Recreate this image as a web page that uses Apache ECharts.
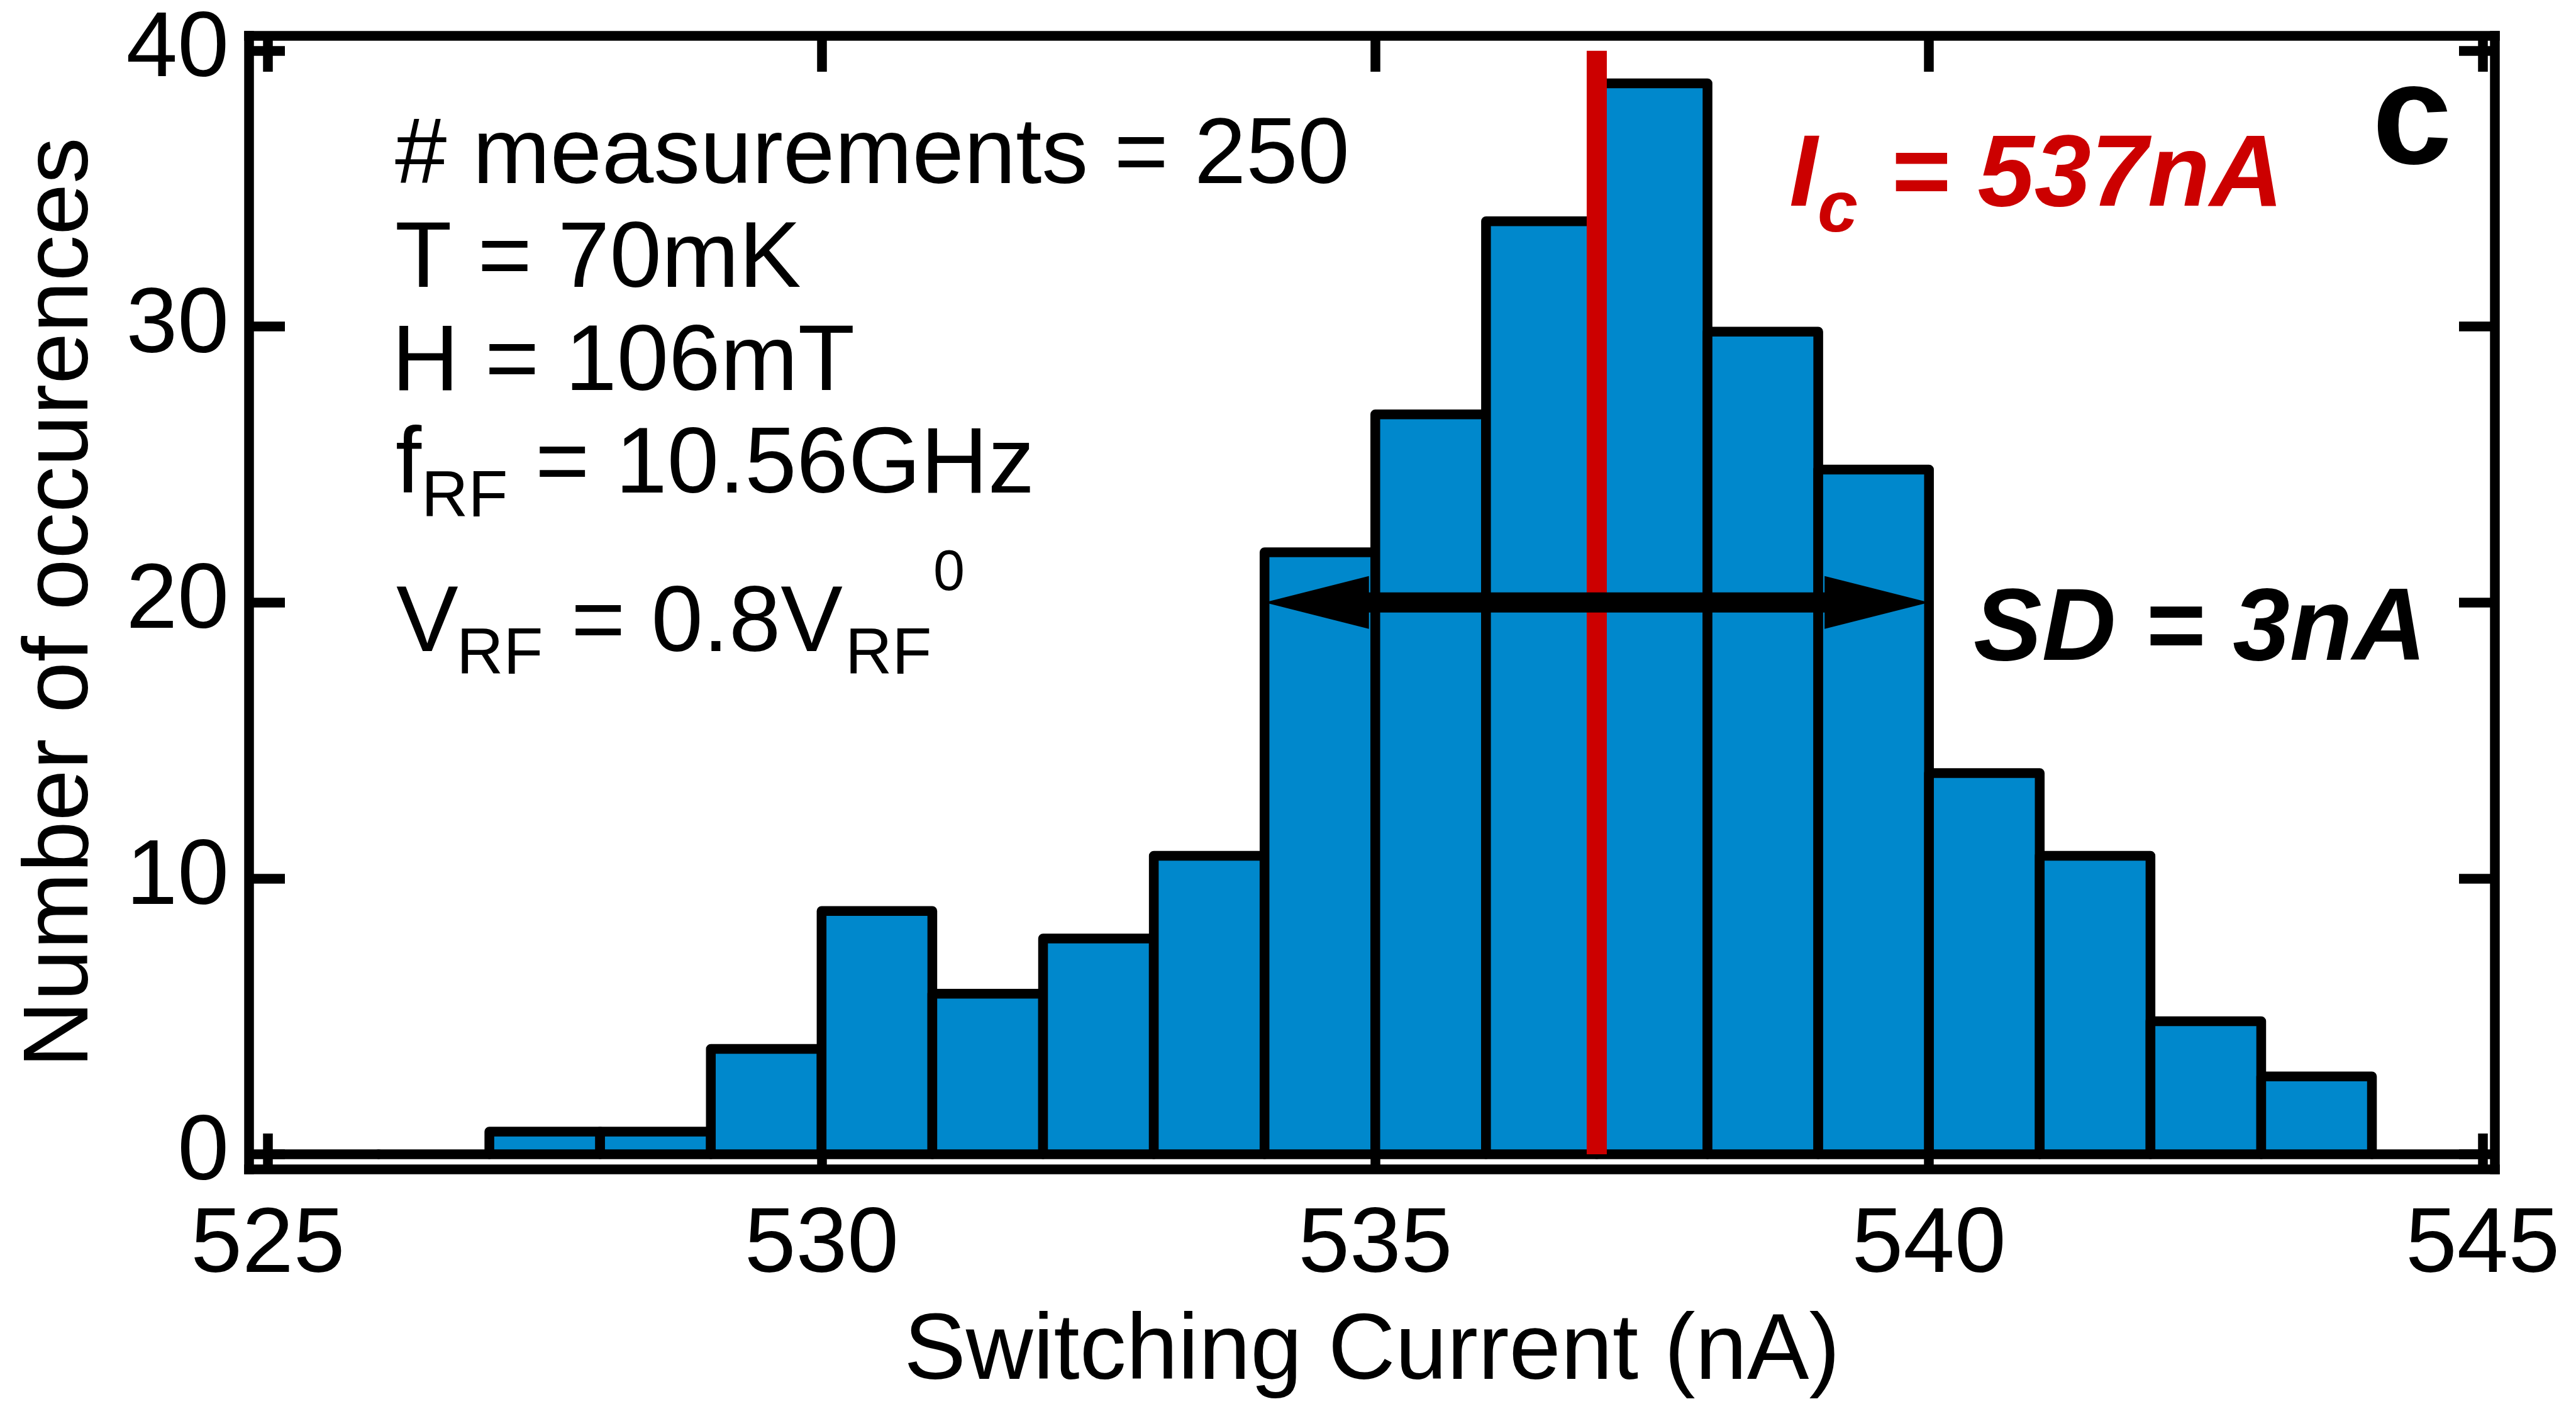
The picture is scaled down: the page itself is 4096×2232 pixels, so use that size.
<!DOCTYPE html>
<html>
<head>
<meta charset="utf-8">
<style>
html,body{margin:0;padding:0;background:#ffffff;}
#c{width:4096px;height:2232px;}
</style>
<script src="https://cdn.jsdelivr.net/npm/echarts@6/dist/echarts.min.js"></script>
</head>
<body>
<div id="c"></div>
<script>
// ---------------- data ----------------
const binStarts = [525,526,527,528,529,530,531,532,533,534,535,536,537,538,539,540,541,542,543,544];
const counts    = [0,  0,  1,  1,  4,  9,  6,  8,  11, 22, 27, 34, 39, 30, 25, 14, 11, 5,  3,  0];
const binWidth = 1;
const xTickValues = [525,530,535,540,545];
const yTickValues = [0,10,20,30,40];
const xRange = [524.83, 545.11];
const yRange = [-0.55, 40.54];
const icLine = [[537,0],[537,40]];          // critical current marker
const sdArrow = [[534, 540, 20]];           // standard deviation arrow (from, to, at count)
const xName = 'Switching Current (nA)';
const yName = 'Number of occurences';

// ---------------- style ----------------
const FONT = "Arial, 'Liberation Sans', Helvetica, sans-serif";
const LW = 15.5;
const TICKLEN = 57;
const BLUE = '#0088cc';
const RED = '#cc0000';
const K = 0.80; // baseline offset factor for top-aligned text
const TOP_INSET = 8; // outline sits just inside the bar top, as in the reference

const chart = echarts.init(document.getElementById('c'), null, {renderer:'canvas', width:4096, height:2232});

function txt(text, x, baseline, size, extra) {
  return {
    type: 'text', x: x, y: baseline - K * size, z: 100,
    style: Object.assign({
      text: text, fontSize: size, fontFamily: FONT, fill: '#000',
      lineHeight: size, align: 'left', verticalAlign: 'top'
    }, extra || {})
  };
}
const BI = {fontWeight: 'bold', fontStyle: 'italic'};

const axisCommon = {
  type: 'value',
  axisLine: {show: true, onZero: false, lineStyle: {color: '#000', width: LW, cap: 'square'}},
  splitLine: {show: false},
  minorTick: {show: false}
};

const option = {
  backgroundColor: '#ffffff',
  animation: false,
  grid: {left: 396, right: 129, top: 57, bottom: 373, containLabel: false, outerBoundsMode: 'none'},
  xAxis: [
    Object.assign({}, axisCommon, {
      position: 'bottom', min: xRange[0], max: xRange[1],
      axisTick: {show: true, inside: true, length: TICKLEN, customValues: xTickValues, lineStyle: {color: '#000', width: LW}},
      axisLabel: {show: true, customValues: xTickValues, fontSize: 147, fontFamily: FONT, color: '#000', margin: 49},
      name: xName, nameLocation: 'middle', nameGap: 218,
      nameTextStyle: {fontSize: 148, fontFamily: FONT, color: '#000'}
    }),
    Object.assign({}, axisCommon, {
      position: 'top', min: xRange[0], max: xRange[1],
      axisTick: {show: true, inside: true, length: TICKLEN, customValues: xTickValues, lineStyle: {color: '#000', width: LW}},
      axisLabel: {show: false}
    })
  ],
  yAxis: [
    Object.assign({}, axisCommon, {
      position: 'left', min: yRange[0], max: yRange[1],
      axisTick: {show: true, inside: true, length: TICKLEN, customValues: yTickValues, lineStyle: {color: '#000', width: LW}},
      axisLabel: {show: true, customValues: yTickValues, fontSize: 147, fontFamily: FONT, color: '#000', margin: 32},
      name: yName, nameLocation: 'middle', nameGap: 224, nameRotate: 90,
      nameTextStyle: {fontSize: 147, fontFamily: FONT, color: '#000'}
    }),
    Object.assign({}, axisCommon, {
      position: 'right', min: yRange[0], max: yRange[1],
      axisTick: {show: true, inside: true, length: TICKLEN, customValues: yTickValues, lineStyle: {color: '#000', width: LW}},
      axisLabel: {show: false}
    })
  ],
  series: [
    {
      type: 'custom', name: 'histogram', xAxisIndex: 0, yAxisIndex: 0, z: 2,
      data: binStarts.map((s, i) => [s, s + binWidth, counts[i]]),
      encode: {x: [0, 1], y: 2},
      renderItem: function (params, api) {
        const p0 = api.coord([api.value(0), 0]);
        const p1 = api.coord([api.value(1), api.value(2)]);
        const h = p0[1] - p1[1];
        const inset = h > TOP_INSET ? TOP_INSET : 0;
        return {
          type: 'rect',
          shape: {x: p0[0], y: p1[1] + inset, width: p1[0] - p0[0], height: h - inset},
          style: {fill: BLUE, stroke: '#000', lineWidth: LW, lineJoin: 'round'}
        };
      }
    },
    {
      type: 'line', name: 'Ic', xAxisIndex: 0, yAxisIndex: 0, z: 3,
      data: icLine, symbol: 'none', silent: true,
      lineStyle: {color: RED, width: 32, cap: 'butt'}
    },
    {
      type: 'custom', name: 'SD', xAxisIndex: 0, yAxisIndex: 0, z: 4,
      data: sdArrow, encode: {x: [0, 1], y: 2},
      renderItem: function (params, api) {
        const a = api.coord([api.value(0), api.value(2)]);
        const b = api.coord([api.value(1), api.value(2)]);
        const HL = 166, HH = 42, SH = 16;
        const y = a[1];
        return {
          type: 'polygon',
          shape: {points: [
            [a[0], y], [a[0] + HL, y - HH], [a[0] + HL, y - SH],
            [b[0] - HL, y - SH], [b[0] - HL, y - HH], [b[0], y],
            [b[0] - HL, y + HH], [b[0] - HL, y + SH],
            [a[0] + HL, y + SH], [a[0] + HL, y + HH]
          ]},
          style: {fill: '#000'}
        };
      }
    }
  ],
  graphic: {elements: [
    txt('# measurements = 250', 628, 295, 148),
    txt('T = 70mK', 628, 460, 148),
    txt('H = 106mT', 623, 624, 148),
    txt('f', 629, 787, 148),
    txt('RF', 670, 823, 103),
    txt('= 10.56GHz', 851, 787, 148),
    txt('V', 630, 1039, 148),
    txt('RF', 726, 1073, 103),
    txt('= 0.8V', 908, 1039, 148),
    txt('RF', 1344, 1073, 103),
    txt('0', 1484, 940, 90),
    txt('I', 2845, 331, 162, Object.assign({fill: RED}, BI)),
    txt('c', 2890, 371, 115, Object.assign({fill: RED}, BI)),
    txt('= 537nA', 3005, 331, 162, Object.assign({fill: RED}, BI)),
    txt('SD = 3nA', 3138, 1053, 163, BI),
    txt('c', 3772, 266, 228, {fontWeight: 'bold'})
  ]}
};
chart.setOption(option);
</script>
</body>
</html>
